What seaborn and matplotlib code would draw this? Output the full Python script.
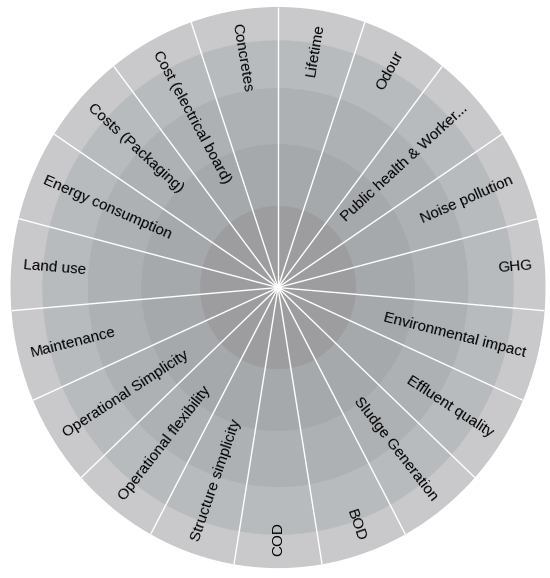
import numpy as np
import matplotlib
matplotlib.use("Agg")
import matplotlib.pyplot as plt
import seaborn as sns

# ---- data ----
categories = [
    "Lifetime", "Odour", "Public health & Worker...", "Noise pollution", "GHG",
    "Environmental impact", "Effluent quality", "Sludge Generation", "BOD", "COD",
    "Structure simplicity", "Operational flexibility", "Operational Simplicity",
    "Maintenance", "Land use", "Energy consumption", "Costs (Packaging)",
    "Cost (electrical board)", "Concretes",
]
ring_levels = [1, 2, 3, 4, 5]
ring_edges = [0.29, 0.51, 0.71, 0.88, 1.0]  # outer radius of each level ring
ring_colors = ["#9d9c9e", "#a6a9ac", "#aeb1b4", "#b8bbbe", "#c9c9cb"]

sns.set_theme(style="white")
plt.rcParams["font.family"] = ["Liberation Sans", "DejaVu Sans"]

n = len(categories)
step = 2 * np.pi / n
centers = np.arange(n) * step + step / 2
bounds = np.arange(n) * step

fig = plt.figure(figsize=(5.5, 5.78), dpi=100)
fig.patch.set_facecolor("white")
ax = fig.add_axes([0.019, 0.017, 0.973, 0.971], projection="polar")
ax.set_theta_zero_location("N")
ax.set_theta_direction(-1)
ax.set_aspect("auto")

# rings, drawn from outermost inward
for lvl, r, c in sorted(zip(ring_levels, ring_edges, ring_colors), reverse=True):
    ax.bar(centers, np.full(n, r), width=step, bottom=0, color=c,
           edgecolor=c, linewidth=0.3, align="center", zorder=1)

# white separators
for b in bounds:
    ax.plot([b, b], [0, ring_edges[-1]], color="white", lw=1.0, zorder=3,
            solid_capstyle="butt")
ax.scatter([0], [0], s=30, color="white", zorder=4, edgecolors="none")

# labels
r_lab = 0.955
for name, th in zip(categories, centers):
    deg = np.degrees(th)  # clockwise from north
    rot = 90 - deg
    if deg < 180 - 1e-6:
        ha = "right"
    else:
        rot += 180
        ha = "left"
    ax.text(th, r_lab, name, rotation=rot, rotation_mode="anchor",
            ha=ha, va="center", fontsize=11, color="#000000", zorder=5)

ax.set_ylim(0, 1.0)
ax.set_xticks([])
ax.set_yticks([])
ax.grid(False)
ax.spines["polar"].set_visible(False)
ax.set_facecolor("white")

fig.savefig("out.png", dpi=100, facecolor="white")
